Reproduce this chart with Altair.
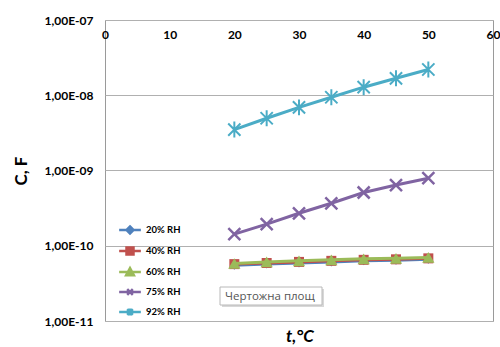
import altair as alt
import pandas as pd

# ---- data ----
temps = [20, 25, 30, 35, 40, 45, 50]
series_names = ["20% RH", "40% RH", "60% RH", "75% RH", "92% RH"]
c_20 = [5.5e-11, 5.7e-11, 5.9e-11, 6.1e-11, 6.3e-11, 6.4e-11, 6.6e-11]
c_40 = [5.7e-11, 5.9e-11, 6.1e-11, 6.3e-11, 6.5e-11, 6.6e-11, 6.8e-11]
c_60 = [5.8e-11, 6.1e-11, 6.3e-11, 6.5e-11, 6.7e-11, 6.8e-11, 7.0e-11]
c_75 = [1.43e-10, 1.94e-10, 2.7e-10, 3.67e-10, 5.1e-10, 6.4e-10, 7.9e-10]
c_92 = [3.5e-9, 4.95e-9, 6.9e-9, 9.4e-9, 1.28e-8, 1.68e-8, 2.2e-8]
x_ticks = [0, 10, 20, 30, 40, 50, 60]
y_ticks = [1e-11, 1e-10, 1e-9, 1e-8, 1e-7]
note_text = "Чертожна площ"
x_title = "t,°C"
y_title = "C, F"

colors = ["#4F81BD", "#C0504D", "#9BBB59", "#8064A2", "#4BACC6"]

rows = []
for name, vals in zip(series_names, [c_20, c_40, c_60, c_75, c_92]):
    for t, v in zip(temps, vals):
        rows.append({"series": name, "T": t, "C": v})
df = pd.DataFrame(rows)

W, H = 388, 301
FONT = "Lato"

x_enc = alt.X(
    "T:Q",
    scale=alt.Scale(domain=[0, 60], nice=False, zero=False),
    axis=alt.Axis(
        orient="bottom", offset=-H, values=x_ticks, ticks=False, domain=False,
        grid=False, labelPadding=9, title=None, labelFont=FONT,
        labelFontWeight="bold", labelFontSize=12, labelColor="#000000",
        labelFlush=False,
    ),
)
y_enc = alt.Y(
    "C:Q",
    scale=alt.Scale(type="log", domain=[1e-11, 1e-7], nice=False),
    axis=alt.Axis(
        values=y_ticks, ticks=False, domain=False, grid=True,
        gridColor="#b0b0b0", gridWidth=1, labelPadding=12,
        labelExpr="'1,00E-' + (round(-log(datum.value)/LN10) < 10 ? '0' : '') + round(-log(datum.value)/LN10)",
        labelFont=FONT, labelFontWeight="bold", labelFontSize=12,
        labelColor="#000000", labelFlush=False,
        title=y_title, titleFont=FONT, titleFontWeight="bold",
        titleFontSize=17, titleColor="#000000", titleX=-79, titleY=H / 2,
        titleAngle=270, titleBaseline="alphabetic", titleAlign="center",
    ),
)

base = alt.Chart(df).encode(x=x_enc, y=y_enc)

marker_specs = [
    dict(shape="diamond", filled=True, size=80),
    dict(shape="square", filled=True, size=100),
    dict(shape="triangle-up", filled=True, size=150),
    dict(shape="M-1,-1L1,1M-1,1L1,-1", filled=False, size=144, strokeWidth=2.5),
    dict(shape="M-1,-1L1,1M-1,1L1,-1M0,-1.3L0,1.3", filled=False, size=150, strokeWidth=2),
]
series_layers = []
for name, col, spec in zip(series_names, colors, marker_specs):
    sub = base.transform_filter(alt.datum.series == name)
    series_layers.append(sub.mark_line(strokeWidth=3, color=col))
    series_layers.append(sub.mark_point(opacity=1, color=col, **spec))

L = "M-3.1,0L3.1,0"
legend_shapes = [
    L + "M0,-1L1,0L0,1L-1,0Z",
    L + "M-1,-1L1,-1L1,1L-1,1Z",
    L + "M0,-1.1L1.1,0.9L-1.1,0.9Z",
    L + "M-0.8,-0.8L0.8,0.8M-0.8,0.8L0.8,-0.8",
    L + "M-0.8,-0.8L0.8,0.8M-0.8,0.8L0.8,-0.8M0,-1L0,1",
]
leg = alt.Legend(
    title=None, orient="none", legendX=20, legendY=205, padding=0,
    symbolSize=49, symbolStrokeWidth=2.5, labelOffset=11,
    labelFont=FONT, labelFontWeight="bold", labelFontSize=9.5,
    labelColor="#000000", rowPadding=3,
)
color_scale = alt.Scale(domain=series_names, range=colors)
legend_layer = (
    base.mark_point(filled=True, opacity=1, strokeWidth=2.5)
    .encode(
        color=alt.Color("series:N", scale=color_scale, legend=leg),
        stroke=alt.Stroke("series:N", scale=color_scale, legend=leg),
        shape=alt.Shape("series:N", scale=alt.Scale(domain=series_names, range=legend_shapes), legend=leg),
    )
    .transform_filter("false")
)

note_df = pd.DataFrame({"label": [note_text]})
note_shadow = alt.Chart(note_df).mark_rect(fill="#d8d8d8").encode(
    x=alt.value(117), x2=alt.value(219), y=alt.value(269), y2=alt.value(287)
)
note_box = alt.Chart(note_df).mark_rect(fill="#ffffff", stroke="#b8b8b8", strokeWidth=1).encode(
    x=alt.value(115), x2=alt.value(217), y=alt.value(267), y2=alt.value(285)
)
note_label = alt.Chart(note_df).mark_text(
    align="left", baseline="middle", font="Open Sans", fontSize=11.5, color="#555555"
).encode(x=alt.value(120), y=alt.value(276.5), text="label:N")

xt_df = pd.DataFrame({"label": [x_title]})
x_title_mark = alt.Chart(xt_df).mark_text(
    align="center", baseline="alphabetic", font=FONT, fontSize=17,
    fontWeight="bold", fontStyle="italic", color="#000000"
).encode(x=alt.value(W / 2 + 1), y=alt.value(H + 21), text="label:N")

chart = alt.layer(
    *series_layers, legend_layer, note_shadow, note_box, note_label, x_title_mark
).properties(
    width=W, height=H,
    autosize=alt.AutoSizeParams(type="none"),
    padding={"left": 105, "top": 20, "right": 7, "bottom": 26},
    background="#ffffff",
).configure_view(stroke="#9a9a9a", strokeWidth=1)

chart.save("out.html", embed_options={"renderer": "svg", "actions": False})
